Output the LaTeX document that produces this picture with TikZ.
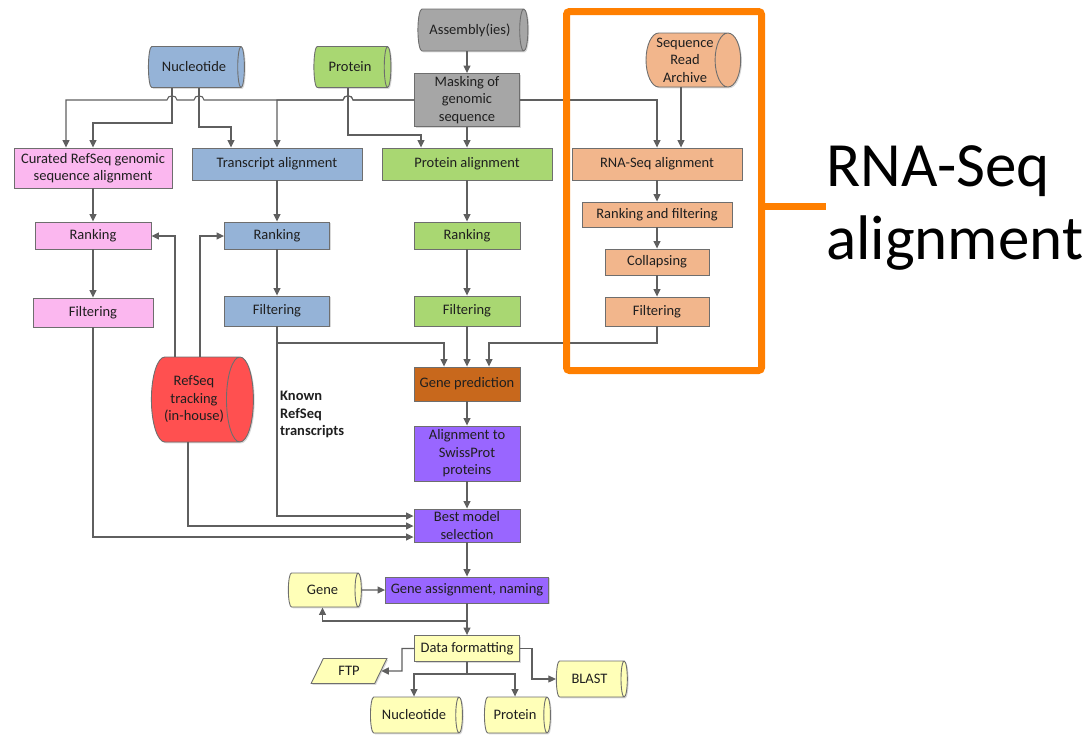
\documentclass[tikz,border=0pt]{standalone}
\usepackage{fontspec}
\setmainfont{Carlito}
\usetikzlibrary{shapes.geometric,arrows.meta,shadows}

\definecolor{txt}{HTML}{1F1F1F}
\definecolor{edge}{HTML}{6E6E6E}
\definecolor{wire}{HTML}{5F5F5F}
\definecolor{cgray}{HTML}{A6A6A6}
\definecolor{cblue}{HTML}{95B3D7}
\definecolor{cgreen}{HTML}{A9D772}
\definecolor{cpink}{HTML}{FBB7EF}
\definecolor{cpeach}{HTML}{F2B68C}
\definecolor{cbrown}{HTML}{C8681C}
\definecolor{cpurple}{HTML}{9966FF}
\definecolor{cred}{HTML}{FF5050}
\definecolor{cyellow}{HTML}{FFFFB8}
\definecolor{hilite}{HTML}{FF7F00}

\begin{document}
\begin{tikzpicture}[x=1pt,y=-1pt,
  every node/.style={font=\fontsize{14.5}{17.5}\selectfont, text=txt},
  shade/.style={drop shadow={shadow xshift=1.3pt, shadow yshift=-1.3pt, opacity=0.3}},
  box/.style={rectangle, draw=edge, line width=0.9pt, inner sep=1pt, align=center, shade},
  % cylinder: length along the axis is "minimum height", thickness is "minimum width"
  db/.style={cylinder, shape border rotate=0, shape aspect=0.55, draw=edge, line width=0.9pt,
             inner sep=1pt, align=center, shade},
  arr/.style={draw=wire, line width=1.1pt, -{Triangle[length=7.5pt,width=7pt]}},
]
\useasboundingbox (0,0) rectangle (1092,734);

% ---- data sources ----
\node[db, fill=cgray, minimum height=110, minimum width=42] (asm) at (470,30) {Assembly(ies)};
\node[db, fill=cblue, minimum height=96, minimum width=41] (nuc) at (194,67) {Nucleotide};
\node[db, fill=cgreen, minimum height=77, minimum width=41] (prot) at (350,67) {Protein};
\node[db, fill=cpeach, minimum height=89, minimum width=54] (sra) at (685,60) {Sequence\\Read\\Archive};

\node[box, fill=cgray, minimum width=105, minimum height=53] (mask) at (467,100) {Masking of\\genomic\\sequence};

% ---- alignment row ----
\node[box, fill=cpink, minimum width=158, minimum height=40] (cur) at (93,168) {Curated RefSeq genomic\\sequence alignment};
\node[box, fill=cblue, minimum width=170, minimum height=32] (tra) at (277,164) {Transcript alignment};
\node[box, fill=cgreen, minimum width=170, minimum height=32] (pal) at (467,164) {Protein alignment};
\node[box, fill=cpeach, minimum width=170, minimum height=32] (rna) at (657,164) {RNA-Seq alignment};

% ---- ranking / filtering ----
\node[box, fill=cpink, minimum width=116, minimum height=27] (rk1) at (93,235.5) {Ranking};
\node[box, fill=cblue, minimum width=105, minimum height=27] (rk2) at (277,235.5) {Ranking};
\node[box, fill=cgreen, minimum width=106, minimum height=27] (rk3) at (467,235.5) {Ranking};
\node[box, fill=cpeach, minimum width=150, minimum height=25] (rnf) at (657,214.5) {Ranking and filtering};
\node[box, fill=cpeach, minimum width=104, minimum height=26] (col) at (657,262) {Collapsing};

\node[box, fill=cpink, minimum width=120, minimum height=29] (fl1) at (93,312.5) {Filtering};
\node[box, fill=cblue, minimum width=105, minimum height=30] (fl2) at (277,311) {Filtering};
\node[box, fill=cgreen, minimum width=106, minimum height=30] (fl3) at (467,311) {Filtering};
\node[box, fill=cpeach, minimum width=104, minimum height=29] (fl4) at (657,311.5) {Filtering};

\node[db, fill=cred, minimum height=102, minimum width=85] (rst) at (194,399.5) {RefSeq\\tracking\\(in-house)};
\node[anchor=north west, align=left, inner sep=0, font=\fontsize{14.5}{17.5}\selectfont\bfseries] (known) at (280,391) {Known\\RefSeq\\transcripts};

% ---- model building ----
\node[box, fill=cbrown, minimum width=106, minimum height=34] (gp) at (467,384) {Gene prediction};
\node[box, fill=cpurple, minimum width=106, minimum height=55] (asp) at (467,453.5) {Alignment to\\SwissProt\\proteins};
\node[box, fill=cpurple, minimum width=106, minimum height=33] (bms) at (467,525.5) {Best model\\selection};
\node[box, fill=cpurple, minimum width=163, minimum height=26] (gan) at (467,590) {Gene assignment, naming};
\node[db, fill=cyellow, minimum height=73, minimum width=34] (gene) at (322.5,590) {Gene};
\node[box, fill=cyellow, minimum width=105, minimum height=26] (dfm) at (467,648.5) {Data formatting};

% ---- outputs ----
\node[trapezium, trapezium left angle=64, trapezium right angle=116, draw=edge, line width=0.9pt,
      fill=cyellow, minimum width=60, minimum height=25, inner sep=1pt, shade] (ftp) at (349,671) {FTP};
\node[db, fill=cyellow, minimum height=71, minimum width=36] (blast) at (589.5,679) {BLAST};
\node[db, fill=cyellow, minimum height=92, minimum width=36] (nuc2) at (414,715) {Nucleotide};
\node[db, fill=cyellow, minimum height=66, minimum width=36] (prot2) at (515,715) {Protein};

% ---- connectors: top section ----
\draw[arr] (asm.south -| mask.north) -- (mask.north);
\draw[arr] (mask.south) -- (pal.north);

\coordinate (hL) at (66,100);
\coordinate (hT) at (277,100);
\draw[arr] (mask.west) -- (353,100) .. controls (353,94.5) and (343,94.5) .. (343,100)
  -- (204,100) .. controls (204,94.5) and (194,94.5) .. (194,100)
  -- (177,100) .. controls (177,94.5) and (167,94.5) .. (167,100)
  -- (hL) -- (hL |- cur.north);
\draw[arr] (mask.west) -- (353,100) .. controls (353,94.5) and (343,94.5) .. (343,100)
  -- (hT) -- (hT |- tra.north);

\coordinate (n1) at (172,123);
\coordinate (n2) at (93,123);
\draw[arr] (nuc.south -| n1) -- (n1) -- (n2) -- (n2 |- cur.north);
\coordinate (n3) at (199,127);
\coordinate (n4) at (231,127);
\draw[arr] (nuc.south -| n3) -- (n3) -- (n4) -- (n4 |- tra.north);

\coordinate (p1) at (348,135);
\coordinate (p2) at (421,135);
\draw[arr] (prot.south -| p1) -- (p1) -- (p2) -- (p2 |- pal.north);

\coordinate (m1) at (657,100);
\draw[arr] (mask.east) -- (m1) -- (m1 |- rna.north);
\coordinate (s1) at (681,0);
\draw[arr] (sra.south -| s1) -- (rna.north -| s1);

% ---- connectors: pipelines ----
\draw[arr] (cur) -- (rk1);
\draw[arr] (rk1) -- (fl1);
\draw[arr] (tra) -- (rk2);
\draw[arr] (rk2) -- (fl2);
\draw[arr] (pal) -- (rk3);
\draw[arr] (rk3) -- (fl3);
\draw[arr] (rna) -- (rnf);
\draw[arr] (rnf) -- (col);
\draw[arr] (col) -- (fl4);

\coordinate (r1) at (175,236);
\draw[arr] (rst.north -| r1) -- (r1) -- (rk1.east |- r1);
\coordinate (r2) at (200,236);
\draw[arr] (rst.north -| r2) -- (r2) -- (rk2.west |- r2);

\coordinate (g1) at (444,343);
\coordinate (g3) at (489,343);
\draw[arr] (fl2.south) |- (g1) -- (g1 |- gp.north);
\draw[arr] (fl3) -- (gp);
\draw[arr] (fl4.south) |- (g3) -- (g3 |- gp.north);

\coordinate (b1) at (277,516);
\coordinate (b2) at (188,526);
\coordinate (b3) at (93,537);
\draw[arr] (fl2.south) -- (b1) -- (bms.west |- b1);
\draw[arr] (rst.south -| b2) -- (b2) -- (bms.west |- b2);
\draw[arr] (fl1.south) -- (b3) -- (bms.west |- b3);

\draw[arr] (gp) -- (asp);
\draw[arr] (asp) -- (bms);
\draw[arr] (bms) -- (gan);

% ---- connectors: bottom section ----
\draw[arr] (gene.east) -- (gan.west);
\coordinate (j1) at (467,621);
\draw[arr] (gan.south) -- (dfm.north);
\draw[arr] (j1) -| (gene.south);

\coordinate (d1) at (402,671);
\draw[arr] (dfm.west) -| (d1) -- (ftp.east);
\coordinate (d2) at (467,674);
\draw[arr] (dfm.south) -- (d2) -| (nuc2.north);
\draw[arr] (d2) -| (prot2.north);
\coordinate (d3) at (532,679);
\draw[arr] (dfm.east) -| (d3) -- (blast.west);

% ---- RNA-Seq highlight ----
\node[draw=hilite, line width=7pt, rounded corners=3pt, inner sep=0, outer sep=0,
      minimum width=195, minimum height=359] (hlbox) at (664,191) {};
\node[anchor=base west, align=left, inner sep=0, text=black,
      font=\fontsize{63}{73}\selectfont] (lbl) at (826,259) {RNA-Seq\\alignment};
\coordinate (lk) at (826,206);
\draw[hilite, line width=7pt] (hlbox.east |- lk) -- (lk);
\end{tikzpicture}
\end{document}
